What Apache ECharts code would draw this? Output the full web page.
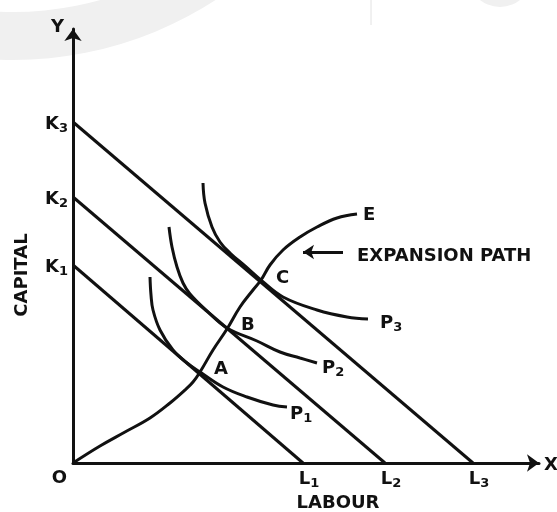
<!DOCTYPE html>
<html>
<head>
<meta charset="utf-8">
<style>
  html, body { margin: 0; padding: 0; background: #fff; }
  #chart { width: 557px; height: 512px; }
</style>
<script src="https://cdn.jsdelivr.net/npm/echarts@6/dist/echarts.min.js"></script>
</head>
<body>
<div id="chart"></div>
<script>
// isocost lines: capital intercepts (K1..K3) and labour intercepts (L1..L3)
const capitalLevels = [198, 266, 341];
const labourLevels = [230, 312, 400];
const levelNames = ['1', '2', '3'];

// isoquants P1, P2, P3 (labour, capital)
const isoquantP1 = [[77, 186], [78, 168], [80, 153], [87, 133], [100, 113], [114, 100], [127, 91], [150, 76], [174, 66], [200, 58], [214, 56]];
const isoquantP2 = [[96, 236], [99, 216], [104, 196], [110, 180], [117, 169], [134, 152], [154, 135], [184, 122], [207, 111], [227, 105], [244, 100]];
const isoquantP3 = [[130, 280], [132, 260], [139, 236], [147, 221], [157, 210], [172, 197], [189, 182], [210, 166], [244, 153], [274, 146], [295, 144]];

// expansion path O -> A -> B -> C -> E
const expansionPath = [[0, 0], [27, 17], [52, 31], [77, 45], [97, 60], [112, 73], [120, 81], [127, 91], [140, 113], [154, 134], [167, 156], [180, 173], [188, 183], [197, 198], [210, 213], [227, 226], [244, 236], [264, 245], [284, 249]];

// equilibrium points A, B, C
const equilibrium = [['A', 127, 91], ['B', 154, 135], ['C', 189, 182]];

// arrow pointing at the expansion path
const pathArrow = [[270, 211], [230, 211]];

const xMax = 466;
const yMax = 434;
const font = 'DejaVu Sans';
const ink = '#111';

const rich = {
  m: { fontSize: 18, fontWeight: 'bold', fontFamily: font, color: ink, lineHeight: 22 },
  s: { fontSize: 13, fontWeight: 'bold', fontFamily: font, color: ink, lineHeight: 13, verticalAlign: 'bottom' }
};

function lineSeries(data, smooth) {
  return {
    type: 'line',
    data: data,
    smooth: smooth,
    symbol: 'none',
    clip: false,
    lineStyle: { color: ink, width: 3 },
    z: 3
  };
}

function labelSeries(data, label) {
  return {
    type: 'scatter',
    data: data,
    symbolSize: 0,
    clip: false,
    silent: true,
    itemStyle: { opacity: 1 },
    label: Object.assign({ show: true, rich: rich, color: ink }, label),
    z: 5
  };
}

const isocosts = capitalLevels.map((k, i) => lineSeries([[0, k], [labourLevels[i], 0]], false));

const chart = echarts.init(document.getElementById('chart'), null, { renderer: 'canvas' });

chart.setOption({
  animation: false,
  backgroundColor: '#fff',
  graphic: [
    { type: 'ring', shape: { cx: 13, cy: -312, r: 372, r0: 324 }, style: { fill: '#f0f0f0' }, z: -10 },
    { type: 'circle', shape: { cx: 500, cy: -25, r: 32 }, style: { fill: '#f0f0f0' }, z: -10 },
    { type: 'line', shape: { x1: 371, y1: 0, x2: 371, y2: 25 }, style: { stroke: '#e2e2e2', lineWidth: 1 }, z: -10 }
  ],
  grid: { left: 73, right: 18, top: 29, bottom: 49, outerBoundsMode: 'none', containLabel: false },
  xAxis: {
    type: 'value', min: 0, max: xMax,
    name: 'LABOUR', nameLocation: 'middle', nameGap: 31,
    nameTextStyle: { fontSize: 18, fontWeight: 'bold', fontFamily: font, color: ink, padding: [0, 0, 0, 64] },
    axisLine: { lineStyle: { color: ink, width: 3 }, symbol: ['none', 'arrow'], symbolSize: [13, 12] },
    axisTick: { show: false }, axisLabel: { show: false }, splitLine: { show: false }
  },
  yAxis: {
    type: 'value', min: 0, max: yMax,
    name: 'CAPITAL', nameLocation: 'middle', nameGap: 42, nameRotate: 90,
    nameTextStyle: { fontSize: 18, fontWeight: 'bold', fontFamily: font, color: ink, padding: [0, 58, 0, 0] },
    axisLine: { lineStyle: { color: ink, width: 3 }, symbol: ['none', 'arrow'], symbolSize: [13, 12] },
    axisTick: { show: false }, axisLabel: { show: false }, splitLine: { show: false }
  },
  series: [
    ...isocosts,
    lineSeries(isoquantP1, 0.4),
    lineSeries(isoquantP2, 0.4),
    lineSeries(isoquantP3, 0.4),
    Object.assign(lineSeries(expansionPath, 0.4), {
      markLine: {
        silent: true,
        symbol: ['none', 'arrow'],
        symbolSize: [11, 11],
        label: { show: false },
        lineStyle: { color: ink, width: 3, type: 'solid' },
        data: [[{ coord: pathArrow[0] }, { coord: pathArrow[1] }]]
      }
    }),
    // K labels on the capital axis
    labelSeries(capitalLevels.map((k, i) => ({ value: [0, k], name: levelNames[i] })), {
      position: 'left', distance: 5, offset: [0, 2],
      formatter: p => '{m|K}{s|' + p.name + '}'
    }),
    // L labels on the labour axis
    labelSeries(labourLevels.map((l, i) => ({ value: [l, 0], name: levelNames[i] })), {
      position: 'bottom', distance: 5, offset: [6, 0],
      formatter: p => '{m|L}{s|' + p.name + '}'
    }),
    // isoquant labels at curve ends
    labelSeries([
      { value: isoquantP1[isoquantP1.length - 1], name: '1', label: { offset: [0, 7] } },
      { value: isoquantP2[isoquantP2.length - 1], name: '2', label: { offset: [2, 5] } },
      { value: isoquantP3[isoquantP3.length - 1], name: '3', label: { offset: [9, 4] } }
    ], {
      position: 'right', distance: 3,
      formatter: p => '{m|P}{s|' + p.name + '}'
    }),
    // A, B, C
    labelSeries(equilibrium.map(d => ({ value: [d[1], d[2]], name: d[0] })), {
      position: 'right', distance: 14, offset: [0, -3],
      formatter: p => '{m|' + p.name + '}'
    }),
    // E and the annotation text
    labelSeries([
      { value: expansionPath[expansionPath.length - 1], name: 'E', label: { distance: 6, offset: [0, 1] } },
      { value: pathArrow[0], name: 'EXPANSION PATH', label: { distance: 14, offset: [0, 4] } }
    ], {
      position: 'right',
      formatter: p => '{m|' + p.name + '}'
    }),
    // axis letters
    labelSeries([
      { value: [0, 0], name: 'O', label: { position: 'left', distance: 6, offset: [0, 15] } },
      { value: [0, yMax], name: 'Y', label: { position: 'left', distance: 9, offset: [0, -2] } },
      { value: [xMax, 0], name: 'X', label: { position: 'right', distance: 0, offset: [5, 2] } }
    ], {
      formatter: p => '{m|' + p.name + '}'
    })
  ]
});
</script>
</body>
</html>
